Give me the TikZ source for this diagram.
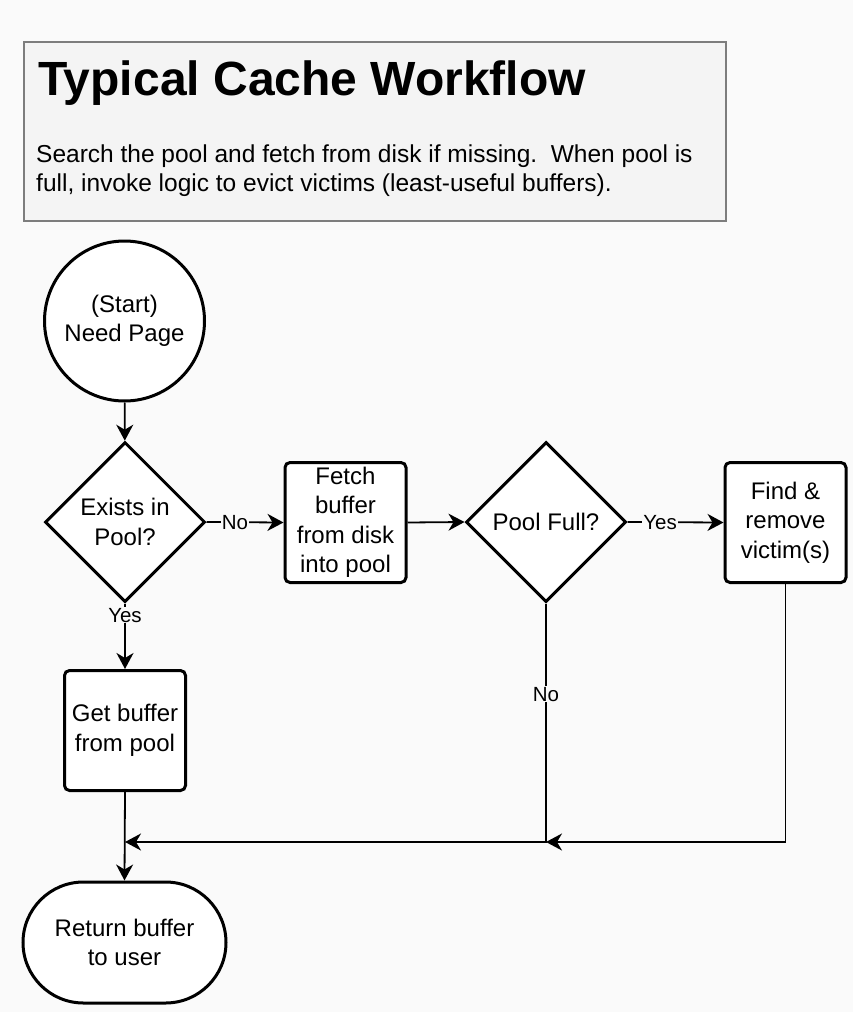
\documentclass[tikz,border=0pt]{standalone}
\usepackage{fontspec}
\setmainfont{Liberation Sans}
\usetikzlibrary{shapes.geometric,shapes.misc,arrows.meta}

\definecolor{bgcol}{RGB}{250,250,250}
\definecolor{headfill}{RGB}{244,244,244}
\definecolor{headline}{RGB}{125,125,125}

\tikzset{
	flowshape/.style={draw=black, fill=white, line width=3pt, align=center, inner sep=0pt,
		font=\fontsize{24}{29.5}\selectfont},
	startnode/.style={flowshape, circle, minimum size=160pt},
	decision/.style={flowshape, diamond, aspect=1, minimum width=160pt, minimum height=160pt},
	procbox/.style={flowshape, rectangle, rounded corners=5pt, minimum width=121pt, minimum height=120pt},
	endnode/.style={flowshape, rounded rectangle, minimum width=203pt, minimum height=121pt},
	conn/.style={line width=1.8pt, -{Stealth[length=16pt, width=17pt, inset=5pt]}},
	flowlabel/.style={fill=bgcol, inner sep=1pt, font=\fontsize{20.5}{24}\selectfont}
}

\begin{document}
\begin{tikzpicture}[x=1pt, y=-1pt]
	% page and heading
	\fill[bgcol] (0,0) rectangle (853,1012);
	\useasboundingbox (0,0) rectangle (853,1012);
	\draw[headline, fill=headfill, line width=1.5pt] (24,42) rectangle (726,221);
	\node[anchor=base west, inner sep=0pt, font=\fontsize{48}{52}\selectfont\bfseries] (title) at (38,95) {Typical Cache Workflow};
	\node[anchor=base west, inner sep=0pt, align=left, font=\fontsize{24.5}{29}\selectfont] (subtitle) at (36,191)
		{Search the pool and fetch from disk if missing.\ \ When pool is\\full, invoke logic to evict victims (least-useful buffers).};

	% shapes
	\node[startnode] (start) at (124.5,321) {(Start)\\Need Page};
	\node[decision] (exists) at (125,522) {Exists in\\Pool?};
	\node[procbox] (fetch) at (345.5,522.5) {Fetch\\buffer\\from disk\\into pool};
	\node[decision] (full) at (546,522) {Pool Full?};
	\node[procbox] (victim) at (785.5,522.5) {Find \&\\remove\\victim(s)};
	\node[procbox] (get) at (125,730.5) {Get buffer\\from pool};
	\node[endnode] (ret) at (124.5,942.5) {Return buffer\\to user};
	\coordinate (join) at (full.south |- 0,842);
	\coordinate (merge) at (get.south |- 0,842);

	% connectors
	\draw[conn] (start) -- (exists);
	\draw[conn] (exists.east) -- node[flowlabel, pos=0.37] (lblno) {No} (fetch.west);
	\draw[conn] (fetch.east) -- (full.west);
	\draw[conn] (full.east) -- node[flowlabel, pos=0.34] (lblyes) {Yes} (victim.west);
	\draw[conn] (exists.south) -- node[flowlabel, pos=0.18] (lblyes2) {Yes} (get.north);
	\draw[conn] (get.south) -- (ret.north);
	\draw[conn] (victim.south) |- (join);
	\draw[conn] (full.south) -- node[flowlabel, pos=0.38] (lblno2) {No} (join) -- (merge);
\end{tikzpicture}
\end{document}
